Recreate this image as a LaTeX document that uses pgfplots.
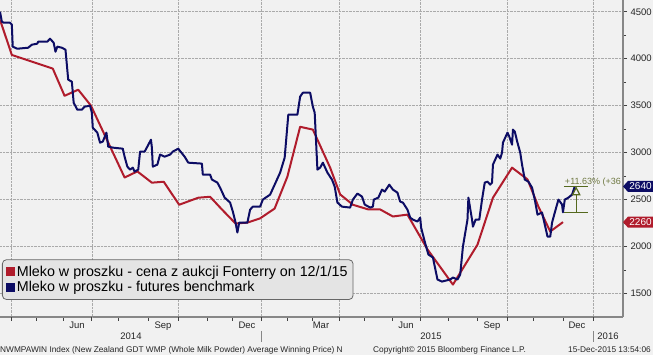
\documentclass[border=0pt]{standalone}
\usepackage{fontspec}
\setmainfont{Liberation Sans}
\usepackage{pgfplots}
\usepackage{pgfplotstable}
\pgfplotsset{compat=1.18}
\usetikzlibrary{arrows.meta}
\definecolor{bg}{RGB}{241,241,241}
\definecolor{bred}{RGB}{176,28,44}
\definecolor{bnavy}{RGB}{12,12,100}
\definecolor{gridc}{RGB}{170,170,170}
\definecolor{axc}{RGB}{135,135,135}
\definecolor{oliveline}{RGB}{85,105,30}
\definecolor{olivetext}{RGB}{110,120,65}
\definecolor{legfill}{RGB}{228,228,228}

% x = days since 1 Jan 2015
\pgfplotstableread{
x y
-287 4415
-274 4040
-229 3895
-216 3605
-201 3670
-187 3500
-150 2735
-136 2800
-120 2680
-107 2690
-90 2445
-69 2520
-56 2530
-43 2395
-28 2245
-15 2255
-1 2300
15 2405
29 2745
43 3275
57 3245
76 2840
87 2555
101 2445
118 2395
131 2395
145 2320
161 2340
183 1970
211 1595
238 2020
255 2520
276 2840
293 2715
305 2425
318 2160
332 2260
}\auction

\pgfplotstableread{
x y
-287 4500
-285 4395
-283 4383
-276 4383
-274 4362
-273 4128
-268 4106
-256 4117
-252 4149
-246 4160
-245 4181
-235 4181
-232 4213
-228 4170
-226 4074
-224 4128
-219 4117
-215 4096
-212 3777
-208 3755
-206 3532
-202 3457
-197 3457
-194 3489
-188 3500
-186 3425
-185 3266
-180 3213
-177 3106
-174 3117
-170 3213
-168 3064
-163 3053
-152 3042
-150 2957
-147 2851
-144 2819
-141 2840
-139 2798
-135 2819
-133 3010
-128 3010
-125 3064
-121 3138
-120 3053
-119 2851
-114 2872
-111 2979
-106 2957
-100 2979
-97 3011
-91 3042
-84 2957
-80 2893
-65 2883
-64 2766
-56 2766
-54 2713
-48 2681
-45 2627
-40 2521
-34 2468
-31 2372
-28 2255
-26 2149
-24 2255
-15 2255
-12 2393
-9 2425
-1 2425
2 2500
10 2553
15 2659
21 2787
26 2947
30 3404
40 3404
43 3596
46 3638
54 3638
57 3489
59 3425
62 2819
65 2840
68 2893
73 2787
78 2713
81 2638
84 2468
89 2425
98 2415
101 2500
106 2564
111 2532
114 2447
120 2415
123 2425
124 2500
129 2521
133 2606
136 2585
141 2659
145 2606
150 2574
153 2478
156 2468
161 2393
164 2308
167 2287
172 2266
175 2308
176 2202
180 2053
184 1915
189 1883
194 1649
199 1627
208 1649
211 1670
216 1649
219 1702
222 2000
227 2287
228 2521
232 2287
233 2212
236 2287
240 2287
243 2500
246 2681
249 2691
252 2659
254 2681
255 2872
260 2979
263 2936
265 3000
266 3106
271 3213
273 3170
276 3085
277 3245
279 3223
282 3106
285 3000
287 2872
290 2713
294 2691
298 2627
301 2500
304 2340
309 2362
312 2234
315 2106
318 2106
320 2255
323 2362
327 2500
331 2447
332 2365
334 2500
338 2521
342 2553
345 2640
}\futures

\begin{document}
\begin{tikzpicture}[x=1pt,y=1pt]
\useasboundingbox (0,-38) rectangle (653,317);
\fill[bg] (0,-38) rectangle (653,317);
\begin{axis}[
  at={(0,0)}, anchor=south west,
  scale only axis, width=623pt, height=317pt,
  xmin=-287, xmax=398, ymin=1250, ymax=4625,
  axis x line*=bottom, axis y line*=right,
  axis line style={draw=axc, line width=1.3pt},
  clip mode=individual,
  xtick={-275,-247,-217,-186,-157,-124,-91,-59,-31,0,29,56,86,114,144,175,206,238,271,300,332,365},
  xticklabel={\mbox{}},
  extra x ticks={-275,-186,-91,0,86,175,271,365},
  extra x tick label={\mbox{}},
  extra x tick style={grid=major},
  ytick={1500,2000,...,4500},
  minor y tick num=1,
  ymajorgrids,
  grid style={densely dotted, draw=gridc, line width=0.7pt},
  tick align=outside,
  major tick length=4pt,
  minor tick length=3pt,
  tick style={draw=black!75, line width=0.8pt},
  /pgf/number format/1000 sep={},
  /pgf/number format/assume math mode=true,
  yticklabel style={font=\fontsize{9.5}{10}\selectfont, text=black!85, inner ysep=1pt},
  legend cell align=left,
  legend style={at={(0.0032,0.054)}, anchor=south west, fill=legfill, draw=black!60,
    line width=0.8pt, rounded corners=4pt, font=\fontsize{14.3}{15}\selectfont,
    inner xsep=3.5pt, inner ysep=4pt, row sep=0pt},
  legend image code/.code={\fill[#1, sharp corners, draw=none] (0pt,-4.5pt) rectangle (9pt,4.5pt);},
]
\addplot[bred, line width=2pt, line join=round] table[x=x,y=y] {\auction};
\addlegendentry{Mleko w proszku - cena z aukcji Fonterry on 12/1/15}
\addplot[bnavy, line width=2pt, line join=round] table[x=x,y=y] {\futures};
\addlegendentry{Mleko w proszku - futures benchmark}

% change annotation
\draw[oliveline, line width=1.2pt] (axis cs:333,2640) -- (axis cs:360,2640);
\draw[oliveline, line width=1.2pt] (axis cs:333,2365) -- (axis cs:360,2365);
\draw[oliveline, line width=1.2pt, -{Triangle[open, width=9pt, length=9pt]}] (axis cs:346.5,2365) -- (axis cs:346.5,2640);
\begin{scope}
\clip (rel axis cs:0,0) rectangle (rel axis cs:1,1);
\node[anchor=base west, inner sep=0pt, text=olivetext, font=\fontsize{9}{10}\selectfont] at (axis cs:334,2665) {+11.63\% (+36};
\end{scope}
\coordinate (tagA) at (axis cs:398,2640);
\coordinate (tagB) at (axis cs:398,2260);
\end{axis}

% last value tags
\fill[bnavy] (tagA) -- ++(5,5.5) -- ++(25,0) -- ++(0,-11) -- ++(-25,0) -- cycle;
\node[text=white, font=\fontsize{10}{10}\selectfont, inner sep=0pt] at ([xshift=17.5pt]tagA) {2640};
\fill[bred] (tagB) -- ++(5,5.5) -- ++(25,0) -- ++(0,-11) -- ++(-25,0) -- cycle;
\node[text=white, font=\fontsize{10}{10}\selectfont, inner sep=0pt] at ([xshift=17.5pt]tagB) {2260};

% month labels
\begin{scope}[font=\fontsize{9.5}{10}\selectfont, every node/.style={anchor=base, inner sep=0pt, text=black!85}]
\node at (77,-11.5) {Jun};
\node at (163,-11.5) {Sep};
\node at (247,-11.5) {Dec};
\node at (321,-11.5) {Mar};
\node at (406,-11.5) {Jun};
\node at (492,-11.5) {Sep};
\node at (577,-11.5) {Dec};
\node at (131,-23) {2014};
\node at (431,-23) {2015};
\node at (608,-23) {2016};
\end{scope}
\draw[axc, line width=0.9pt] (261,-14) -- (261,-25);
\draw[axc, line width=0.9pt] (593,-14) -- (593,-25);

% footer
\begin{scope}[font=\fontsize{8.3}{9}\selectfont, every node/.style={inner sep=0pt, text=black!85}]
\node[anchor=base west] at (0,-35.5) {NWMPAWIN Index (New Zealand GDT WMP (Whole Milk Powder) Average Winning Price) N};
\node[anchor=base west] at (373,-35.5) {Copyright\textcopyright{} 2015 Bloomberg Finance L.P.};
\node[anchor=base east] at (651,-35.5) {15-Dec-2015 13:54:06};
\end{scope}
\end{tikzpicture}
\end{document}
